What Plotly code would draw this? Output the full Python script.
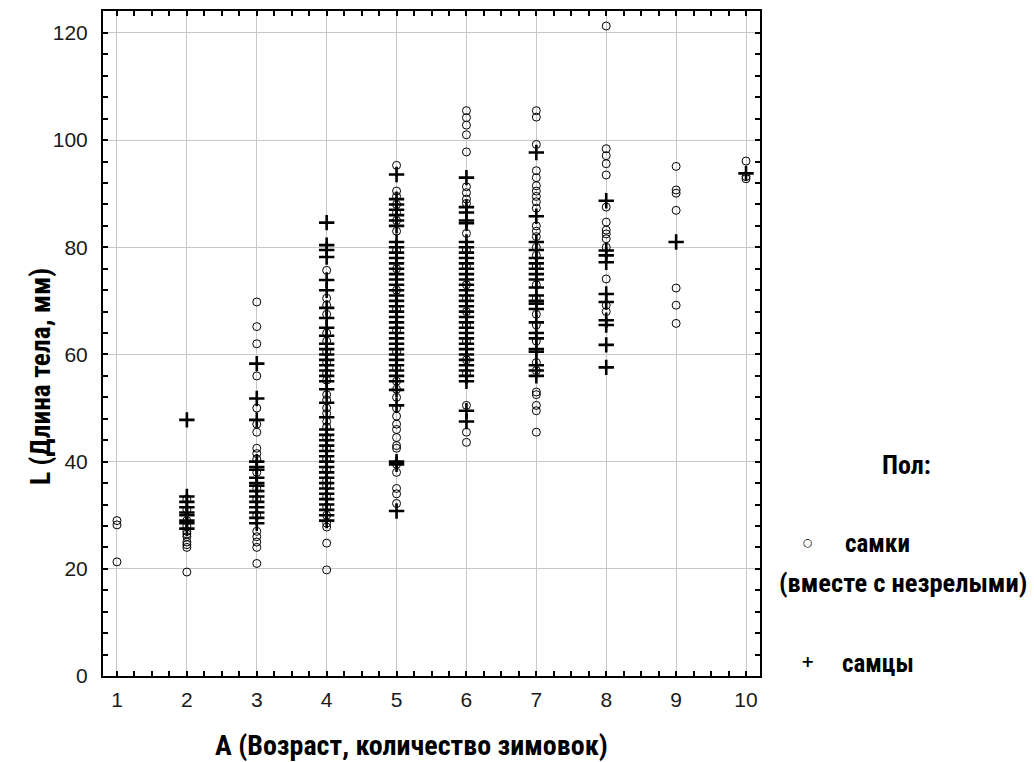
import plotly.graph_objects as go

# Age (number of winterings) -> body length L (mm)
females_by_age = {
    1: [29.0, 28.2, 21.3],
    2: [33.0, 31.0, 29.0, 28.0, 27.0, 26.5, 26.0, 25.0, 24.5, 24.0, 19.4],
    3: [69.8, 65.2, 62.0, 56.0, 50.0, 47.0, 45.5, 42.5, 41.5, 40.5, 38.0, 35.0,
        33.0, 30.0, 27.0, 26.0, 25.0, 24.0, 21.0],
    4: [75.7, 70.5, 69.2, 67.5, 64.0, 62.5, 60.5, 58.5, 56.5, 55.2, 52.5, 51.5,
        50.0, 49.0, 47.5, 46.5, 44.5, 42.5, 40.5, 38.5, 36.5, 35.5, 33.5, 31.5,
        30.0, 28.5, 27.8, 24.8, 19.8],
    5: [95.3, 90.5, 89.5, 88.0, 86.5, 85.0, 83.0, 79.5, 76.0, 72.0, 68.5, 64.5,
        60.5, 57.5, 55.0, 53.5, 52.0, 50.0, 48.5, 47.0, 46.0, 44.5, 43.0, 42.5,
        39.5, 38.0, 35.0, 34.0, 32.2],
    6: [105.5, 104.2, 102.8, 101.0, 97.8, 91.3, 90.2, 89.0, 88.2, 82.6, 79.5,
        76.5, 73.0, 70.5, 68.0, 65.5, 62.5, 59.0, 56.5, 50.5, 45.5, 43.6],
    7: [105.5, 104.3, 99.2, 94.3, 93.0, 91.5, 90.5, 89.5, 88.5, 87.3, 84.0, 83.0,
        82.0, 80.0, 78.5, 76.5, 73.0, 70.5, 67.5, 65.5, 62.5, 58.5, 57.0, 53.0,
        52.5, 50.5, 49.5, 45.5],
    8: [121.3, 98.4, 97.1, 95.6, 93.5, 87.5, 84.7, 83.2, 82.5, 81.6, 80.0, 74.1,
        69.2, 68.0],
    9: [95.1, 90.7, 90.1, 86.9, 72.4, 69.2, 65.8],
    10: [96.1, 93.2, 92.8],
}

males_by_age = {
    2: [47.8, 33.5, 32.5, 31.5, 30.5, 30.0, 29.0, 28.5, 27.5],
    3: [58.3, 51.8, 47.8, 40.0, 39.0, 38.5, 37.0, 36.0, 35.5, 34.5, 33.5, 32.5,
        31.5, 30.5, 29.5, 28.5],
    4: [84.6, 80.4, 79.5, 78.2, 73.9, 72.0, 68.7, 66.8, 65.0, 63.5, 62.0, 61.0,
        60.0, 59.0, 58.0, 57.0, 56.0, 55.0, 53.5, 51.0, 48.3, 46.0, 45.0, 44.0,
        43.0, 42.0, 41.0, 40.0, 39.0, 38.0, 37.0, 36.0, 35.0, 34.0, 33.0, 32.0,
        31.0, 30.0, 29.0],
    5: [93.6, 89.0, 88.0, 87.0, 86.0, 85.0, 84.0, 81.0, 80.0, 79.0, 78.0, 77.0,
        76.0, 75.0, 74.0, 73.0, 72.0, 71.0, 70.0, 69.0, 68.0, 67.0, 66.0, 65.0,
        64.0, 63.0, 62.0, 61.0, 60.0, 59.0, 58.0, 57.0, 56.0, 55.0, 53.4, 50.5,
        40.0, 39.5, 30.8],
    6: [93.0, 87.5, 86.5, 85.0, 84.5, 81.0, 80.0, 79.0, 78.0, 77.0, 76.0, 75.0,
        74.0, 73.0, 72.0, 71.0, 70.0, 69.0, 68.0, 67.0, 66.0, 65.0, 64.0, 63.0,
        62.0, 61.0, 60.0, 59.0, 58.0, 57.0, 56.0, 55.0, 49.5, 47.5],
    7: [97.7, 85.8, 81.0, 79.5, 78.0, 77.0, 76.0, 75.0, 74.0, 72.5, 71.0, 70.0,
        69.5, 68.5, 66.0, 64.0, 63.0, 61.0, 60.5, 58.0, 57.0, 56.0],
    8: [88.7, 79.4, 78.5, 77.2, 71.3, 69.8, 66.4, 65.5, 61.8, 57.6],
    9: [81.0],
    10: [93.8],
}

x_ticks = [1, 2, 3, 4, 5, 6, 7, 8, 9, 10]
y_ticks = [0, 20, 40, 60, 80, 100, 120]

x_title = "A (Возраст, количество зимовок)"
y_title = "L (Длина тела, мм)"
legend_title = "Пол:"
label_f = "самки"
label_f2 = "(вместе с незрелыми)"
label_m = "самцы"


def flatten(d):
    xs, ys = [], []
    for age, vals in d.items():
        for v in vals:
            xs.append(age)
            ys.append(v)
    return xs, ys


fx, fy = flatten(females_by_age)
mx, my = flatten(males_by_age)

fig = go.Figure()
fig.add_trace(go.Scatter(
    x=fx, y=fy, mode="markers", name=label_f,
    marker=dict(symbol="circle-open", size=8, color="black",
                line=dict(width=1, color="black")),
))
fig.add_trace(go.Scatter(
    x=mx, y=my, mode="markers", name=label_m,
    marker=dict(symbol="cross-thin-open", size=11, color="black",
                line=dict(width=2.6, color="black")),
))

tick_font = dict(family="Liberation Sans, Arial, sans-serif", size=21, color="#1a1a1a")
title_family = "Liberation Sans Narrow, Arial Narrow, Roboto Condensed, Roboto, sans-serif"

W, H = 1034, 762
plot_l, plot_r, plot_t, plot_b = 103, 760, 11, 676

fig.update_layout(
    width=W, height=H,
    margin=dict(l=plot_l, r=W - plot_r, t=plot_t, b=H - plot_b, autoexpand=False),
    plot_bgcolor="white", paper_bgcolor="white",
    showlegend=False,
    xaxis=dict(
        range=[0.8, 10.2], tickvals=x_ticks, ticktext=[str(v) for v in x_ticks],
        showgrid=True, gridcolor="#c8c8c8", gridwidth=1,
        showline=True, linecolor="black", linewidth=2, mirror="allticks",
        ticks="inside", ticklen=5, tickwidth=1.5, tickcolor="black",
        tickfont=tick_font, zeroline=False, automargin=False,
        ticklabelstandoff=4,
        minor=dict(dtick=0.25, tick0=1, ticks="inside", ticklen=5, tickwidth=1.5,
                   tickcolor="black", showgrid=False),
    ),
    yaxis=dict(
        range=[0, 124.1], tickvals=y_ticks, ticktext=[str(v) for v in y_ticks],
        showgrid=True, gridcolor="#c8c8c8", gridwidth=1,
        showline=True, linecolor="black", linewidth=2, mirror="allticks",
        ticks="inside", ticklen=5, tickwidth=1.5, tickcolor="black",
        tickfont=tick_font, zeroline=False, automargin=False,
        ticklabelstandoff=9,
        minor=dict(dtick=4, tick0=0, ticks="inside", ticklen=5, tickwidth=1.5,
                   tickcolor="black", showgrid=False),
    ),
)


def to_paper(xpx, ypx):
    return ((xpx - plot_l) / (plot_r - plot_l), (plot_b - ypx) / (plot_b - plot_t))


annos = [
    dict(text="<b>" + x_title + "</b>", px=(411, 746), size=28),
    dict(text="<b>" + y_title + "</b>", px=(40, 377), size=27.5, angle=-90),
    dict(text="<b>" + legend_title + "</b>", px=(906, 465), size=26),
    dict(text="○", px=(808, 542), size=11, family="DejaVu Sans"),
    dict(text="<b>" + label_f + "</b>", px=(877, 543), size=25),
    dict(text="<b>" + label_f2 + "</b>", px=(903, 582), size=26.5),
    dict(text="<b>+</b>", px=(807, 661), size=16, family="DejaVu Sans"),
    dict(text="<b>" + label_m + "</b>", px=(878, 663), size=25),
]
for a in annos:
    x, y = to_paper(*a["px"])
    fig.add_annotation(
        xref="paper", yref="paper", showarrow=False,
        xanchor="center", yanchor="middle",
        textangle=a.get("angle", 0),
        font=dict(family=a.get("family", title_family), size=a["size"], color="black"),
        text=a["text"], x=x, y=y,
    )

fig.write_html(
    "out.html",
    config={"displayModeBar": False},
    post_script="document.body.style.margin='0px';document.body.style.overflow='hidden';",
)
